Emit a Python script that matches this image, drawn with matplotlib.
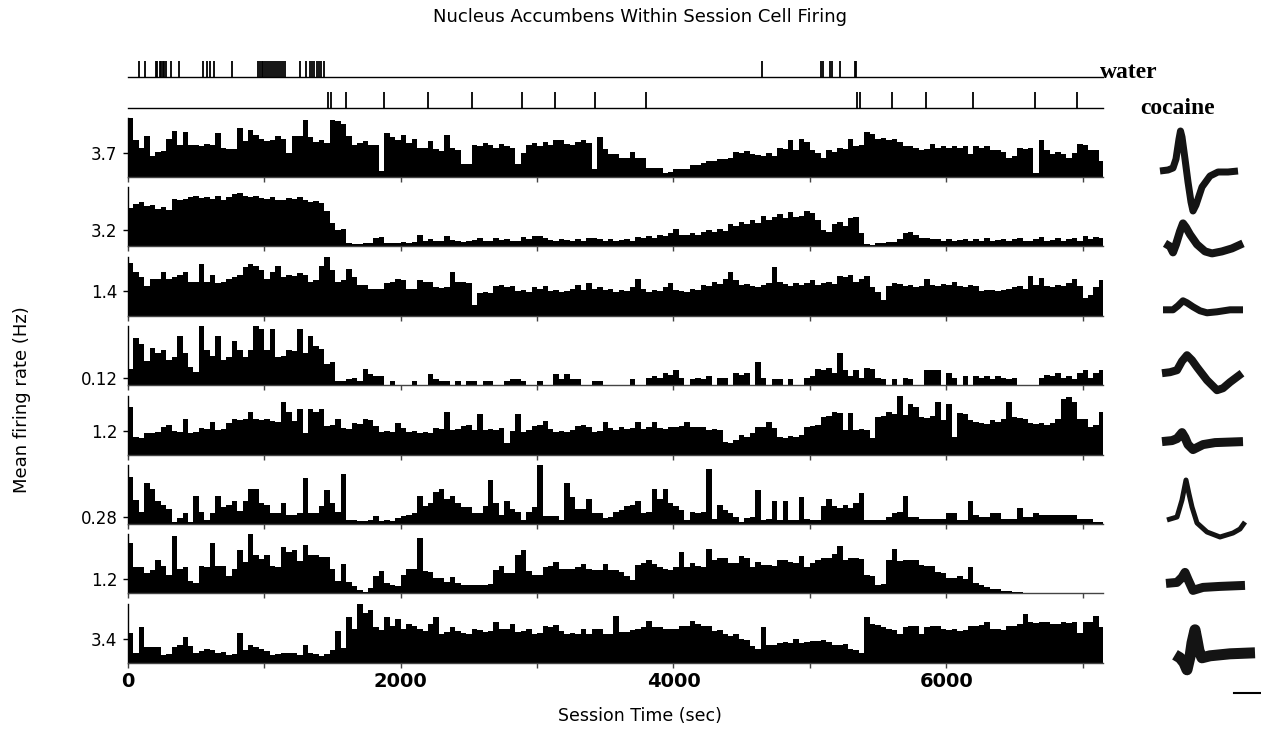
import numpy as np
import matplotlib
matplotlib.use("Agg")
import matplotlib.pyplot as plt

# ---- data ----
bin_width = 40          # sec per bin
session_end = 7150      # sec

water_times = [78, 123, 202, 214, 231, 240, 256, 263, 281, 312, 373, 551, 577, 604, 630, 766,
               955, 968, 984, 993, 1008, 1021, 1037, 1049, 1066, 1078, 1093, 1110, 1124, 1139, 1152,
               1260, 1304, 1331, 1349, 1362, 1384, 1398, 1417, 1436,
               4650, 5080, 5095, 5147, 5165, 5223, 5328, 5340]
cocaine_times = [1465, 1487, 1597, 1875, 2198, 2520, 2886, 3128, 3421, 3795,
                 5348, 5370, 5604, 5853, 6198, 6652, 6960]

mean_rates = [3.7, 3.2, 1.4, 0.12, 1.2, 0.28, 1.2, 3.4]
tick_labels = ["3.7", "3.2", "1.4", "0.12", "1.2", "0.28", "1.2", "3.4"]
rate_max = [9.25, 11.4, 3.33, 1.0, 3.0, 2.33, 4.8, 8.5]   # full scale of each panel (Hz)

# bin heights, % of full scale, 40 s bins
cell1 = [100, 62, 50, 70, 35, 42, 44, 64, 78, 55, 77, 55, 55, 52, 56, 54, 75, 50, 47, 48,
         83, 61, 80, 72, 65, 61, 62, 70, 64, 40, 70, 70, 97, 67, 60, 62, 58, 97, 95, 90,
         70, 55, 57, 61, 55, 55, 11, 75, 67, 62, 72, 58, 64, 50, 50, 61, 48, 44, 72, 50,
         46, 22, 22, 55, 52, 58, 54, 50, 56, 53, 50, 22, 40, 55, 58, 52, 60, 55, 62, 63,
         56, 55, 60, 62, 58, 14, 67,
         48, 39, 39, 33, 33, 42, 33, 33, 16, 16, 16, 7, 8, 13, 13, 14, 21, 21, 24, 27,
         27, 30, 30, 33, 42, 40, 44, 39, 38, 36, 40, 36, 50, 48, 62, 45, 65, 60, 45, 40,
         33, 45, 42, 50, 48, 65, 53, 55, 76, 73, 65, 66, 62, 64, 59, 53, 53, 50, 45, 47,
         56, 50, 52, 50, 53, 50, 53, 39, 53, 50, 53, 45, 45, 42, 33, 36, 50, 48, 50, 7,
         62, 45, 39, 42, 39, 33, 40, 56, 55, 45, 45, 27]
cell2 = [65, 72, 75, 68, 70, 64, 66, 62, 80, 78, 80, 83, 85, 82, 84, 80, 85, 78, 84, 88,
         90, 86, 84, 85, 82, 80, 83, 79, 78, 82, 80, 84, 78, 76, 77, 74, 60, 40, 27, 30,
         6, 4, 4, 5, 5, 14, 16, 6, 5, 6, 7, 6, 8, 20, 10, 12, 9, 10, 17, 11,
         10, 8, 9, 11, 14, 10, 9, 15, 11, 13, 10, 9, 16, 12, 17, 18, 15, 11, 10, 12,
         11, 10, 12, 9, 14, 15, 12,
         10, 12, 9, 11, 12, 10, 16, 14, 18, 15, 20, 18, 22, 30, 20, 19, 22, 20, 24, 28,
         25, 30, 26, 38, 35, 42, 38, 45, 40, 52, 45, 50, 55, 48, 58, 50, 52, 60, 56, 45,
         28, 25, 38, 42, 35, 48, 50, 22, 4, 3, 5, 6, 8, 7, 12, 22, 24, 20, 15, 14,
         12, 13, 10, 12, 9, 11, 13, 10, 12, 9, 14, 10, 11, 13, 9, 12, 15, 10, 9, 12,
         16, 10, 11, 14, 9, 12, 15, 10, 18, 12, 16, 14]
cell3 = [90, 74, 65, 50, 62, 62, 75, 62, 65, 70, 74, 58, 58, 88, 58, 70, 56, 58, 62, 65,
         70, 83, 88, 85, 77, 62, 74, 85, 65, 70, 68, 72, 70, 58, 60, 85, 100, 77, 58, 60,
         80, 65, 53, 53, 45, 45, 46, 56, 58, 62, 60, 45, 46, 60, 58, 57, 48, 47, 48, 74,
         58, 58, 56, 19, 39, 40, 38, 50, 52, 48, 50, 42, 44, 40, 48, 46, 50, 42, 44, 40,
         42, 45, 52, 44, 56, 45, 48,
         43, 45, 40, 44, 42, 48, 62, 46, 40, 44, 42, 48, 55, 44, 42, 40, 46, 44, 52, 50,
         58, 54, 62, 74, 60, 52, 54, 50, 48, 53, 56, 83, 58, 54, 50, 55, 52, 56, 60, 52,
         55, 58, 54, 68, 66, 70, 58, 62, 68, 48, 40, 26, 50, 55, 54, 50, 52, 48, 50, 62,
         52, 50, 54, 53, 58, 50, 48, 52, 50, 42, 44, 43, 42, 44, 45, 48, 50, 46, 68, 52,
         64, 50, 48, 52, 50, 55, 62, 50, 30, 35, 48, 60]
cell4 = [28, 80, 70, 41, 63, 54, 60, 42, 48, 84, 54, 31, 22, 100, 60, 50, 84, 42, 48, 75,
         60, 48, 60, 100, 95, 60, 95, 48, 50, 60, 58, 95, 54, 84, 66, 62, 36, 40, 7, 7,
         10, 13, 7, 28, 19, 16, 16, 0, 7, 0, 0, 0, 7, 0, 0, 19, 10, 7, 7, 0,
         7, 0, 7, 7, 0, 7, 7, 0, 0, 7, 10, 10, 7, 0, 0, 7, 0, 0, 19, 10,
         19, 10, 10, 0, 0, 7, 7,
         0, 0, 0, 0, 0, 10, 0, 0, 12, 15, 12, 20, 18, 25, 12, 0, 10, 12, 10, 15,
         0, 12, 12, 0, 20, 18, 20, 0, 40, 12, 0, 10, 10, 0, 10, 0, 0, 12, 15, 28,
         25, 30, 20, 55, 25, 15, 25, 12, 30, 28, 12, 10, 0, 10, 0, 12, 10, 0, 0, 25,
         25, 25, 0, 20, 12, 0, 15, 0, 15, 12, 15, 10, 15, 12, 10, 12, 0, 0, 0, 0,
         12, 18, 15, 20, 12, 15, 10, 20, 25, 12, 20, 25]
cell5 = [80, 30, 28, 36, 36, 38, 46, 50, 40, 38, 60, 36, 38, 45, 44, 55, 42, 44, 54, 60,
         58, 60, 72, 60, 58, 60, 57, 56, 89, 72, 57, 78, 36, 78, 72, 78, 48, 50, 60, 45,
         44, 54, 52, 60, 58, 48, 39, 40, 38, 54, 45, 39, 40, 36, 38, 36, 45, 44, 72, 42,
         44, 48, 50, 42, 69, 42, 44, 42, 45, 20, 40, 69, 39, 42, 48, 50, 57, 44, 39, 40,
         38, 42, 48, 50, 46, 39, 40,
         55, 45, 42, 46, 44, 45, 55, 44, 46, 55, 45, 44, 47, 46, 48, 55, 47, 46, 47, 42,
         44, 42, 22, 20, 24, 33, 30, 36, 47, 46, 55, 45, 30, 28, 32, 30, 34, 47, 48, 50,
         64, 66, 72, 70, 42, 70, 42, 44, 42, 28, 64, 66, 72, 68, 100, 67, 86, 80, 64, 62,
         66, 89, 58, 86, 30, 70, 68, 58, 56, 53, 52, 58, 56, 60, 89, 64, 62, 60, 53, 52,
         54, 50, 53, 61, 95, 97, 90, 61, 60, 47, 50, 72]
cell6 = [80, 40, 20, 70, 60, 39, 33, 25, 4, 10, 19, 4, 48, 20, 7, 19, 48, 28, 33, 39,
         22, 39, 60, 60, 36, 33, 19, 19, 36, 16, 16, 18, 78, 19, 19, 31, 57, 36, 20, 84,
         7, 7, 5, 5, 6, 13, 5, 6, 5, 10, 13, 16, 19, 48, 31, 36, 54, 60, 42, 48,
         36, 28, 28, 19, 19, 31, 75, 36, 16, 39, 25, 20, 7, 20, 28, 100, 13, 13, 13, 7,
         69, 45, 25, 25, 42, 19, 19,
         10, 12, 21, 24, 30, 32, 39, 18, 21, 60, 42, 60, 36, 30, 24, 6, 21, 18, 20, 94,
         8, 33, 24, 18, 12, 3, 10, 12, 58, 6, 8, 39, 6, 39, 6, 6, 45, 8, 6, 6,
         30, 42, 30, 27, 33, 27, 36, 52, 6, 6, 6, 6, 12, 18, 20, 48, 12, 12, 9, 9,
         9, 9, 9, 18, 18, 6, 6, 39, 15, 12, 12, 18, 18, 9, 9, 9, 27, 12, 12, 18,
         15, 15, 15, 15, 15, 15, 15, 9, 9, 9, 3, 3]
cell7 = [85, 45, 45, 35, 40, 56, 47, 32, 97, 41, 44, 21, 18, 47, 44, 85, 47, 47, 30, 41,
         74, 53, 100, 65, 59, 65, 47, 45, 79, 70, 74, 55, 82, 65, 65, 62, 62, 41, 21, 50,
         20, 12, 5, 3, 10, 30, 38, 18, 15, 12, 32, 41, 41, 94, 38, 36, 26, 26, 20, 28,
         18, 15, 15, 15, 15, 15, 16, 40, 47, 35, 35, 65, 74, 38, 32, 32, 45, 47, 53, 41,
         41, 41, 44, 50, 42, 40, 40,
         50, 39, 39, 36, 29, 22, 48, 52, 57, 50, 45, 42, 39, 45, 70, 45, 51, 46, 44, 76,
         57, 60, 60, 52, 51, 64, 60, 45, 54, 48, 48, 47, 57, 56, 54, 52, 64, 45, 52, 57,
         60, 60, 66, 80, 57, 60, 60, 58, 32, 30, 14, 16, 57, 76, 55, 57, 57, 56, 48, 47,
         46, 36, 35, 26, 26, 30, 24, 45, 17, 15, 11, 8, 8, 4, 4, 3, 2, 0, 0, 0,
         0, 0, 0, 0, 0, 0, 0, 0, 0, 0, 0, 0]
cell8 = [50, 17, 60, 26, 27, 26, 14, 15, 26, 30, 43, 29, 17, 20, 23, 22, 17, 18, 14, 15,
         51, 22, 31, 26, 24, 20, 14, 15, 17, 17, 16, 14, 30, 17, 15, 11, 15, 22, 54, 25,
         77, 57, 100, 85, 89, 60, 56, 77, 63, 74, 57, 66, 63, 58, 54, 66, 77, 49, 52, 60,
         54, 50, 49, 57, 56, 52, 54, 69, 57, 58, 66, 52, 54, 57, 49, 50, 62, 60, 64, 54,
         49, 50, 49, 57, 49, 58, 57,
         49, 49, 80, 52, 52, 55, 57, 60, 71, 60, 60, 58, 57, 57, 63, 63, 71, 65, 63, 63,
         54, 55, 48, 46, 48, 40, 38, 29, 23, 60, 31, 31, 34, 36, 34, 40, 34, 35, 37, 37,
         38, 36, 31, 30, 32, 23, 22, 17, 77, 66, 64, 60, 57, 56, 49, 60, 63, 62, 49, 60,
         63, 62, 57, 56, 57, 54, 55, 63, 62, 64, 69, 57, 58, 56, 63, 62, 66, 83, 69, 68,
         70, 69, 66, 65, 69, 68, 70, 51, 69, 70, 80, 60]
cells = [cell1, cell2, cell3, cell4, cell5, cell6, cell7, cell8]

# spike waveforms (time, amplitude), arbitrary units
wave_t = [[0, 8, 13, 16, 19, 20.5, 22, 25, 28, 31, 33, 36, 42, 50, 58, 68, 78],
          [5, 10, 13, 16, 20, 23, 26, 30, 37, 45, 52, 62, 72, 83],
          [3, 13, 18, 23, 27, 33, 40, 47, 57, 70, 83],
          [2, 10, 17, 22, 27, 32, 37, 47, 57, 63, 70, 82],
          [2, 12, 17, 22, 25, 28, 33, 43, 55, 83],
          [7, 17, 22, 26, 29, 32, 37, 47, 60, 73, 80, 85],
          [6, 17, 22, 25, 28, 33, 43, 60, 85],
          [15, 20, 24, 27, 30, 32, 35, 37, 39, 42, 50, 70, 95]]
wave_v = [[6, 7, 9, 18, 38, 46, 40, 18, -5, -25, -34, -28, -10, 1, 5, 5, 6],
          [3, 0, -6, 2, 15, 23, 19, 12, 2, -5, -7, -5, -2, 3],
          [6, 6, 10, 15, 13, 9, 5, 3, 4, 6, 6],
          [12, 13, 15, 24, 30, 25, 18, 5, -5, -3, 3, 12],
          [13, 14, 16, 22, 17, 10, 5, 10, 12, 13],
          [4, 7, 24, 44, 30, 17, 1, -8, -13, -9, -5, 2],
          [10, 11, 16, 21, 14, 3, 6, 7, 8],
          [8, 5, 0, -7, 6, 20, 33, 23, 12, 5, 7, 9, 10]]
wave_width = [7, 8, 7, 8, 9, 5, 9, 11]   # trace band thickness, px
scale_bar = (74, 100, -30)

# ---- figure ----
W, H = 1261, 736
fig = plt.figure(figsize=(W / 100, H / 100), dpi=100)


def px_axes(left, top, width, height):
    return fig.add_axes([left / W, 1 - (top + height) / H, width / W, height / H])


x0, xw = 128, 975
panel_h = 59

# event rasters
for times, top, label, lx, ly in [(water_times, 61, "water", 1100, 72),
                                  (cocaine_times, 92, "cocaine", 1140, 109)]:
    ax = px_axes(x0, top, xw, 16)
    ax.set_xlim(0, session_end)
    ax.set_ylim(0, 1)
    ax.axhline(0, color="black", lw=1, clip_on=False)
    ax.vlines(times, 0, 1, color="black", lw=1.3)
    ax.axis("off")
    fig.text(lx / W, 1 - ly / H, label, fontsize=17, fontweight="bold",
             family="Liberation Serif", va="center", ha="left")

for i, vals in enumerate(cells):
    base = 177 + 69.4 * i
    ax = px_axes(x0, base - panel_h, xw, panel_h)
    rates = np.array(vals) / 100.0 * rate_max[i]
    edges = np.arange(len(rates) + 1) * bin_width
    ax.stairs(rates, edges, fill=True, color="black", lw=0)
    ax.set_xlim(0, session_end)
    ax.set_ylim(0, rate_max[i])
    ax.spines[["top", "right"]].set_visible(False)
    ax.spines["left"].set_linewidth(1)
    ax.spines["bottom"].set_linewidth(1)
    ax.spines["bottom"].set_color("#444444")
    ax.set_yticks([mean_rates[i]])
    ax.set_yticklabels([tick_labels[i]], fontsize=12)
    ax.tick_params(axis="y", length=3.6, width=1, pad=4)
    ax.set_xticks(np.arange(0, 7001, 1000))
    ax.tick_params(axis="x", length=3.6, width=1, color="#444444", pad=3)
    if i == len(cells) - 1:
        ax.set_xticklabels([str(t) if t % 2000 == 0 else "" for t in range(0, 7001, 1000)],
                           fontsize=14, fontweight="bold")
    else:
        ax.set_xticklabels([])

    # waveform of this unit
    wa = px_axes(1160, base - panel_h, 100, panel_h)
    wa.set_xlim(0, 100)
    wa.set_ylim(0, panel_h)
    wa.plot(wave_t[i], wave_v[i], color="black", lw=wave_width[i] * 0.72, alpha=0.92,
            solid_joinstyle="round", solid_capstyle="butt", clip_on=False)
    wa.axis("off")
    if i == len(cells) - 1:
        wa.plot(scale_bar[:2], [scale_bar[2]] * 2, color="black", lw=1.5, clip_on=False)

fig.text(640 / W, 1 - 17 / H, "Nucleus Accumbens Within Session Cell Firing",
         fontsize=13, ha="center", va="center")
fig.text(640 / W, 1 - 716 / H, "Session Time (sec)", fontsize=12.5, ha="center", va="center")
fig.text(22 / W, 1 - 400 / H, "Mean firing rate (Hz)", fontsize=13, ha="center", va="center",
         rotation=90)

fig.savefig("out.png", dpi=100)
